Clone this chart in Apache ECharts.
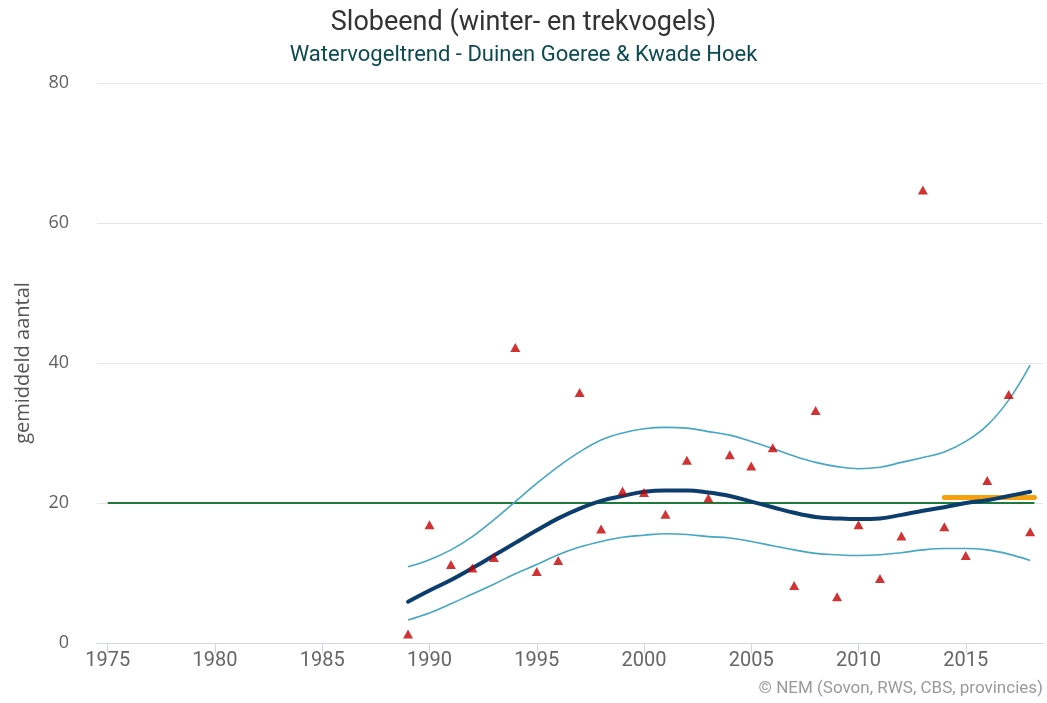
<!DOCTYPE html>
<html>
<head>
<meta charset="utf-8">
<script src="https://cdn.jsdelivr.net/npm/echarts@6/dist/echarts.min.js"></script>
<style>
  html, body { margin: 0; padding: 0; background: #fff; }
  #chart { width: 1047px; height: 703px; }
</style>
</head>
<body>
<div id="chart"></div>
<script>
// Seasonal counts (winter- en trekvogels), Slobeend
const years = [1989, 1990, 1991, 1992, 1993, 1994, 1995, 1996, 1997, 1998,
               1999, 2000, 2001, 2002, 2003, 2004, 2005, 2006, 2007, 2008,
               2009, 2010, 2011, 2012, 2013, 2014, 2015, 2016, 2017, 2018];
const counts = [1.3, 16.9, 11.2, 10.7, 12.2, 42.2, 10.2, 11.8, 35.8, 16.3,
                21.7, 21.5, 18.4, 26.1, 20.7, 26.9, 25.3, 27.9, 8.2, 33.2,
                6.6, 16.9, 9.2, 15.3, 64.7, 16.6, 12.5, 23.2, 35.5, 15.9];
const trend = [5.9, 7.5, 9.0, 10.7, 12.5, 14.3, 16.1, 17.8, 19.2, 20.3,
               21.0, 21.6, 21.8, 21.8, 21.5, 21.0, 20.2, 19.4, 18.6, 18.0,
               17.8, 17.7, 17.8, 18.3, 18.9, 19.4, 20.0, 20.4, 21.0, 21.6];
const upper = [10.9, 11.9, 13.3, 15.2, 17.6, 20.2, 22.8, 25.2, 27.3, 29.0,
               30.0, 30.6, 30.8, 30.7, 30.2, 29.7, 28.8, 27.8, 26.7, 25.8,
               25.2, 24.9, 25.1, 25.8, 26.5, 27.3, 28.8, 31.1, 34.7, 39.7];
const lower = [3.3, 4.3, 5.6, 7.0, 8.4, 9.9, 11.2, 12.6, 13.7, 14.5,
               15.1, 15.4, 15.6, 15.5, 15.2, 15.0, 14.5, 13.9, 13.3, 12.8,
               12.6, 12.5, 12.6, 12.9, 13.3, 13.5, 13.5, 13.3, 12.7, 11.8];
// Reference level and recent-period mean
const referenceYears = [1975, 2018.2];
const referenceLevel = 20;
const recentYears = [2014, 2018.2];
const recentMean = 20.8;
const xTicks = [1975, 1980, 1985, 1990, 1995, 2000, 2005, 2010, 2015];

const pairs = (xs, ys) => xs.map((x, i) => [x, ys[i]]);

const chart = echarts.init(document.getElementById('chart'), null, { renderer: 'canvas' });

chart.setOption({
  animation: false,
  backgroundColor: '#ffffff',
  title: {
    text: 'Slobeend (winter- en trekvogels)',
    subtext: 'Watervogeltrend - Duinen Goeree & Kwade Hoek',
    left: 'center',
    top: 5,
    itemGap: 7,
    textStyle: { fontFamily: 'Roboto, sans-serif', fontSize: 27, fontWeight: 'normal', color: '#333333' },
    subtextStyle: { fontFamily: 'Roboto, sans-serif', fontSize: 22, color: '#0c4a52' }
  },
  grid: { left: 97, right: 4, top: 83, bottom: 60, containLabel: false },
  xAxis: {
    type: 'value',
    min: 1974.5,
    max: 2018.6,
    axisLine: { show: true, lineStyle: { color: '#ccd6eb', width: 1 } },
    axisTick: { show: true, length: 10, customValues: xTicks, lineStyle: { color: '#ccd6eb' } },
    axisLabel: {
      customValues: xTicks,
      margin: 8,
      color: '#666666',
      fontSize: 20,
      fontFamily: 'Roboto, sans-serif',
      formatter: v => String(v)
    },
    splitLine: { show: false }
  },
  yAxis: {
    type: 'value',
    min: 0,
    max: 80,
    interval: 20,
    name: 'gemiddeld aantal',
    nameLocation: 'middle',
    nameRotate: 90,
    nameGap: 64,
    nameTextStyle: { color: '#555555', fontSize: 20, fontFamily: 'Open Sans, sans-serif' },
    axisLine: { show: false },
    axisTick: { show: false },
    axisLabel: { color: '#606060', fontSize: 18, margin: 28, fontFamily: 'Open Sans, sans-serif' },
    splitLine: { show: true, lineStyle: { color: '#e6e6e6', width: 1 } }
  },
  series: [
    {
      name: 'referentie',
      type: 'line',
      data: referenceYears.map(x => [x, referenceLevel]),
      symbol: 'none',
      lineStyle: { color: '#1b7a3c', width: 2 },
      z: 2
    },
    {
      name: 'bovengrens',
      type: 'line',
      data: pairs(years, upper),
      smooth: 0.4,
      symbol: 'none',
      lineStyle: { color: '#45a7c2', width: 1.6 },
      z: 3
    },
    {
      name: 'ondergrens',
      type: 'line',
      data: pairs(years, lower),
      smooth: 0.4,
      symbol: 'none',
      lineStyle: { color: '#45a7c2', width: 1.6 },
      z: 3
    },
    {
      name: 'gemiddelde',
      type: 'line',
      data: recentYears.map(x => [x, recentMean]),
      symbol: 'none',
      lineStyle: { color: '#f5a00c', width: 5, cap: 'round' },
      z: 4
    },
    {
      name: 'trend',
      type: 'line',
      data: pairs(years, trend),
      smooth: 0.4,
      symbol: 'none',
      lineStyle: { color: '#0b3e6c', width: 4, cap: 'round' },
      z: 5
    },
    {
      name: 'telling',
      type: 'scatter',
      data: pairs(years, counts),
      symbol: 'triangle',
      symbolSize: [10, 9],
      itemStyle: { color: '#c40000' },
      z: 6
    }
  ],
  graphic: [
    {
      type: 'text',
      right: 4,
      top: 680,
      style: {
        text: '© NEM (Sovon, RWS, CBS, provincies)',
        font: '17px Roboto, sans-serif',
        fill: '#999999'
      }
    }
  ]
});
</script>
</body>
</html>
